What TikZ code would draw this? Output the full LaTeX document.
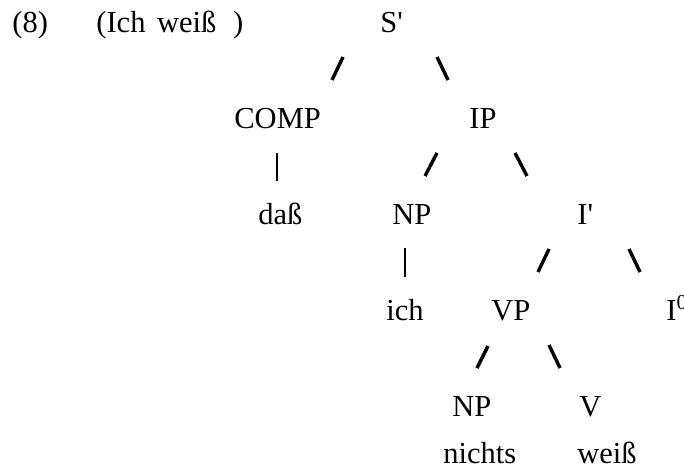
\documentclass[tikz,border=0pt]{standalone}
\usepackage{fontspec}
\setmainfont{Liberation Serif}

\begin{document}
\begin{tikzpicture}[x=0.5pt,y=-0.5pt,
                    every node/.style={inner sep=0pt,anchor=base west,
                      font=\fontsize{15.25}{18}\selectfont},
                    fork/.style={line width=1.7pt},
                    stem/.style={line width=0.6pt}]
  \useasboundingbox (0,0) rectangle (684,468);

  % example number and context
  \node (ex)  at (12,32)  {(8)};
  \node (ctx) at (96,32)  {(Ich\hspace{0.38em}weiß\hspace{0.55em})};

  % categories and words, one row at a time
  \node (sbar)   at (380,32)  {S\textquotesingle};
  \node (comp)   at (234,128) {COMP};
  \node (ip)     at (469,128) {IP};
  \node (dass)   at (258,224) {daß};
  \node (np1)    at (392,224) {NP};
  \node (ibar)   at (577,224) {I\textquotesingle};
  \node (ich)    at (386,320) {ich};
  \node (vp)     at (491,320) {VP};
  \node (izero)  at (666,320) {I\textsuperscript{0}};
  \node (np2)    at (452,416) {NP};
  \node (v)      at (579,416) {V};
  \node (nichts) at (443,463) {nichts};
  \node (weiss)  at (577,463) {weiß};

  % slanted branches
  \foreach \name/\xa/\ya/\xb/\yb in {sl-sbar/343/57/332/80, sr-sbar/437/57/448/80,
      sl-ip/437/153/425/176, sr-ip/515/153/527/176,
      sl-ibar/549/249/538/272, sr-ibar/629/249/640/272,
      sl-vp/488/346/477/368, sr-vp/549/345/560/368}
  {
    \coordinate (\name-a) at (\xa,\ya);
    \coordinate (\name-b) at (\xb,\yb);
    \draw[fork] (\name-a) -- (\name-b);
  }

  % vertical branches
  \coordinate (st-comp-a) at (277,153);
  \coordinate (st-comp-b) at (277,181);
  \coordinate (st-np-a)   at (405,248);
  \coordinate (st-np-b)   at (405,277);
  \draw[stem] (st-comp-a) -- (st-comp-b);
  \draw[stem] (st-np-a) -- (st-np-b);

\end{tikzpicture}
\end{document}
